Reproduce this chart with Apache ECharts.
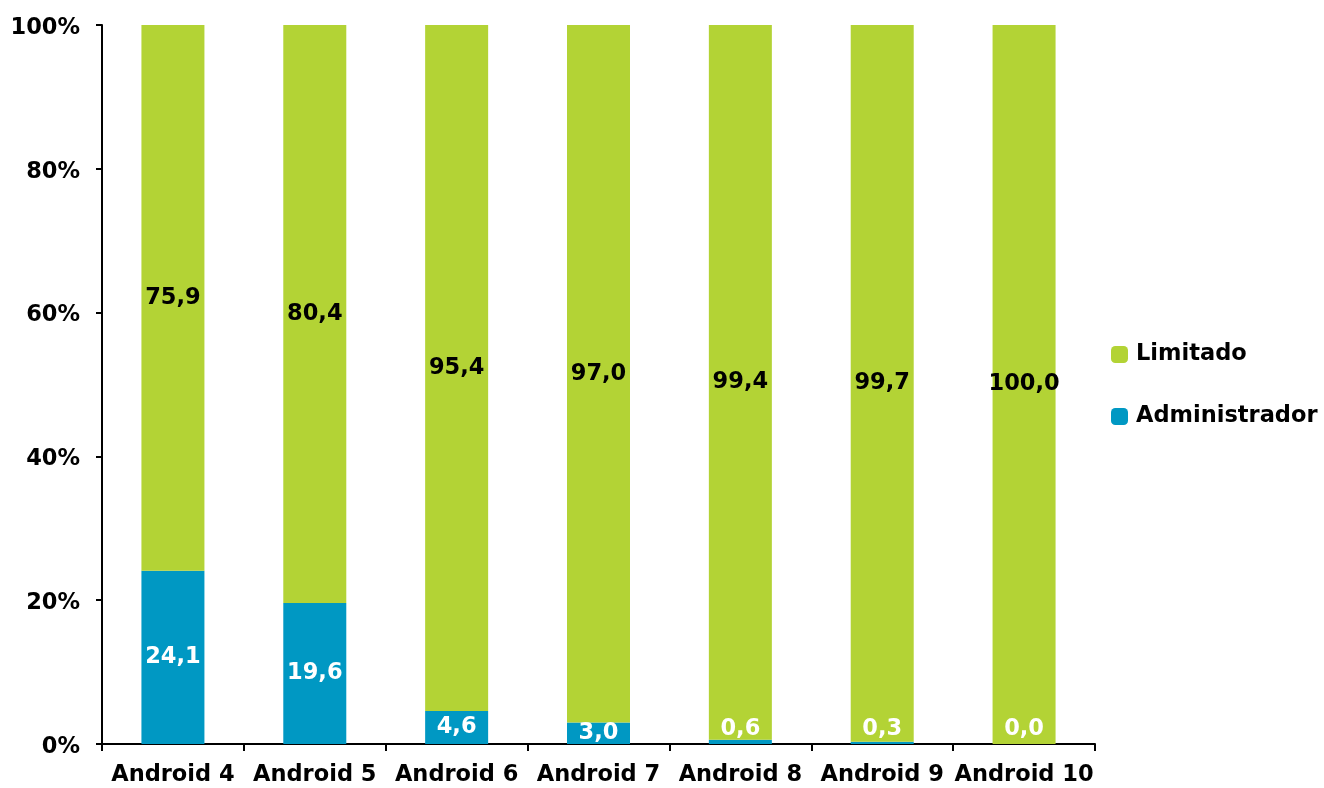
<!DOCTYPE html>
<html><head><meta charset="utf-8">
<script src="https://cdn.jsdelivr.net/npm/echarts@6/dist/echarts.min.js"></script>
<style>html,body{margin:0;padding:0;background:#fff}#c{width:1324px;height:788px}</style>
</head><body><div id="c"></div>
<script>
var categories = ['Android 4','Android 5','Android 6','Android 7','Android 8','Android 9','Android 10'];
var administrador = [24.1, 19.6, 4.6, 3.0, 0.6, 0.3, 0.0];
var limitado = [75.9, 80.4, 95.4, 97.0, 99.4, 99.7, 100.0];
var yTicks = [0, 20, 40, 60, 80, 100];

var FONT = 'DejaVu Sans';
var FS = 22.5;
function fmt(v){ return v.toFixed(1).replace('.', ','); }

var adminData = administrador.map(function(v){
  var d = {value: v};
  if (v < 2) d.label = {position: 'insideBottom', distance: 3};
  return d;
});

var chart = echarts.init(document.getElementById('c'));
chart.setOption({
  animation: false,
  grid: {left: 102, right: 229, top: 25, bottom: 44},
  legend: {
    orient: 'vertical', left: 1106, top: 338,
    itemWidth: 17, itemHeight: 17, itemGap: 39,
    icon: 'roundRect',
    textStyle: {fontFamily: FONT, fontWeight: 'bold', fontSize: FS, color: '#000', padding: [0,0,0,3]},
    data: ['Limitado', 'Administrador']
  },
  xAxis: {
    type: 'category', data: categories,
    axisLine: {lineStyle: {color: '#000', width: 2}},
    axisTick: {show: true, length: 7, lineStyle: {color: '#000', width: 2}, alignWithLabel: false},
    axisLabel: {interval: 0, fontFamily: FONT, fontWeight: 'bold', fontSize: FS, color: '#000', margin: 20}
  },
  yAxis: {
    type: 'value', min: 0, max: 100, interval: 20,
    axisLine: {show: true, lineStyle: {color: '#000', width: 2}},
    axisTick: {show: true, length: 6, lineStyle: {color: '#000', width: 2}},
    splitLine: {show: false},
    axisLabel: {fontFamily: FONT, fontWeight: 'bold', fontSize: FS, color: '#000', margin: 22,
      formatter: function(v){ return yTicks.indexOf(v) >= 0 ? '{a|' + v + '%}' : ''; },
      rich: {a: {fontFamily: FONT, fontWeight: 'bold', fontSize: FS, color: '#000', padding: [6,0,0,0]}}}
  },
  series: [
    {
      name: 'Administrador', type: 'bar', stack: 's', barWidth: 63,
      itemStyle: {color: '#0098C3'},
      label: {show: true, position: 'inside', color: '#fff', fontFamily: FONT, fontWeight: 'bold', fontSize: FS,
        formatter: function(p){ return fmt(p.value); }},
      data: adminData
    },
    {
      name: 'Limitado', type: 'bar', stack: 's', barWidth: 63,
      itemStyle: {color: '#B3D335'},
      label: {show: true, position: 'inside', color: '#000', fontFamily: FONT, fontWeight: 'bold', fontSize: FS,
        formatter: function(p){ return fmt(p.value); }},
      data: limitado
    }
  ]
});
</script></body></html>
